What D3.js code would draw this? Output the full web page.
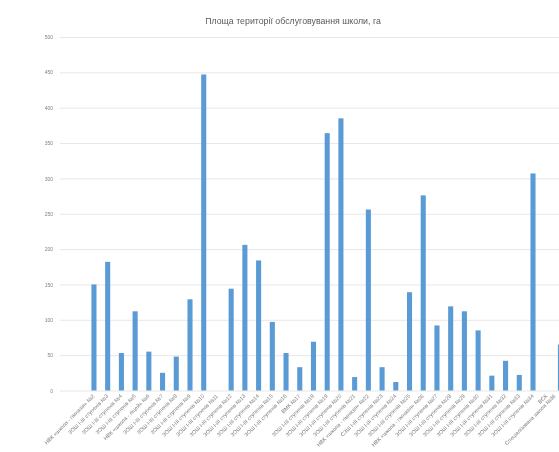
<!DOCTYPE html>
<html>
<head>
<meta charset="utf-8">
<script src="https://cdn.jsdelivr.net/npm/d3@7"></script>
<style>
  html, body { margin: 0; padding: 0; background: #fff; overflow: hidden; }
  svg { display: block; filter: blur(0.45px); }
</style>
</head>
<body>
<svg id="chart" width="559" height="452"></svg>
<script>
// chart data
const title = "Площа території обслуговування школи, га";

const schools = [
  "НВК «школа - гімназія» №2", "ЗОШ І-ІІІ ступенів №3", "ЗОШ І-ІІІ ступенів №4", "ЗОШ І-ІІІ ступенів №5",
  "НВК «школа - ліцей» №6", "ЗОШ І-ІІІ ступенів №7", "ЗОШ І-ІІІ ступенів №8", "ЗОШ І-ІІІ ступенів №9",
  "ЗОШ І-ІІІ ступенів №10", "ЗОШ І-ІІІ ступенів №11", "ЗОШ І-ІІІ ступенів №12", "ЗОШ І-ІІІ ступенів №13",
  "ЗОШ І-ІІІ ступенів №14", "ЗОШ І-ІІІ ступенів №15", "ЗОШ І-ІІІ ступенів №16", "ВМК №17",
  "ЗОШ І-ІІІ ступенів №18", "ЗОШ І-ІІІ ступенів №19", "ЗОШ І-ІІІ ступенів №20", "ЗОШ І-ІІІ ступенів №21",
  "НВК «школа - гімназія» №22", "СЗШ І-ІІІ ступенів №23", "ЗОШ І-ІІІ ступенів №24", "ЗОШ І-ІІІ ступенів №25",
  "НВК «школа - гімназія» №26", "ЗОШ І-ІІІ ступенів №27", "ЗОШ І-ІІІ ступенів №28", "ЗОШ І-ІІІ ступенів №29",
  "ЗОШ І-ІІІ ступенів №30", "ЗОШ І-ІІІ ступенів №31", "ЗОШ І-ІІІ ступенів №32", "ЗОШ І-ІІІ ступенів №33",
  "ЗОШ І-ІІІ ступенів №34", "ВСК", "Спеціалізована школа №36"
];

const area = [
  150, 182, 53, 112, 55, 25, 48, 129, 447, 0,
  144, 206, 184, 97, 53, 33, 69, 364, 385, 19,
  256, 33, 12, 139, 276, 92, 119, 112, 85, 21,
  42, 22, 307, 0, 65
];

const yTicks = [0, 50, 100, 150, 200, 250, 300, 350, 400, 450, 500];

const svg = d3.select("#chart");
const plotLeft = 60, plotTop = 37, plotBottom = 390.5;

const y = d3.scaleLinear().domain([0, 500]).range([plotBottom, plotTop]);
const x = d3.scaleBand()
    .domain(schools)
    .range([87.1, 87.1 + schools.length * 13.72])
    .paddingInner(0.63)
    .paddingOuter(0.315);

svg.append("text")
    .attr("x", 293)
    .attr("y", 24)
    .attr("text-anchor", "middle")
    .style("font-family", "Liberation Sans, Arial, sans-serif")
    .style("font-size", "8.8px")
    .style("fill", "#595959")
    .text(title);

const yAxis = svg.append("g")
    .attr("transform", "translate(" + plotLeft + ",0)")
    .call(d3.axisLeft(y).tickValues(yTicks).tickSize(-560).tickPadding(7));
yAxis.select(".domain").remove();
yAxis.selectAll(".tick line").attr("stroke", "#e4e4e4").attr("stroke-width", 0.9);
yAxis.selectAll(".tick text")
    .style("font-family", "Liberation Sans, Arial, sans-serif")
    .style("font-size", "5px")
    .style("fill", "#808080");

svg.append("g").selectAll("rect")
    .data(area)
    .join("rect")
    .attr("x", (d, i) => x(schools[i]))
    .attr("y", d => y(d))
    .attr("width", x.bandwidth())
    .attr("height", d => plotBottom - y(d))
    .style("fill", "#5b9bd5");

svg.append("g").selectAll("text")
    .data(schools)
    .join("text")
    .attr("transform", d => "translate(" + Math.min(x(d) + x.bandwidth() / 2 + 1, 556) + "," + (plotBottom + 6) + ") rotate(-45)")
    .attr("text-anchor", "end")
    .style("font-family", "Liberation Sans, Arial, sans-serif")
    .style("font-size", "5.4px")
    .style("fill", "#7a7a7a")
    .text(d => d);
</script>
</body>
</html>
